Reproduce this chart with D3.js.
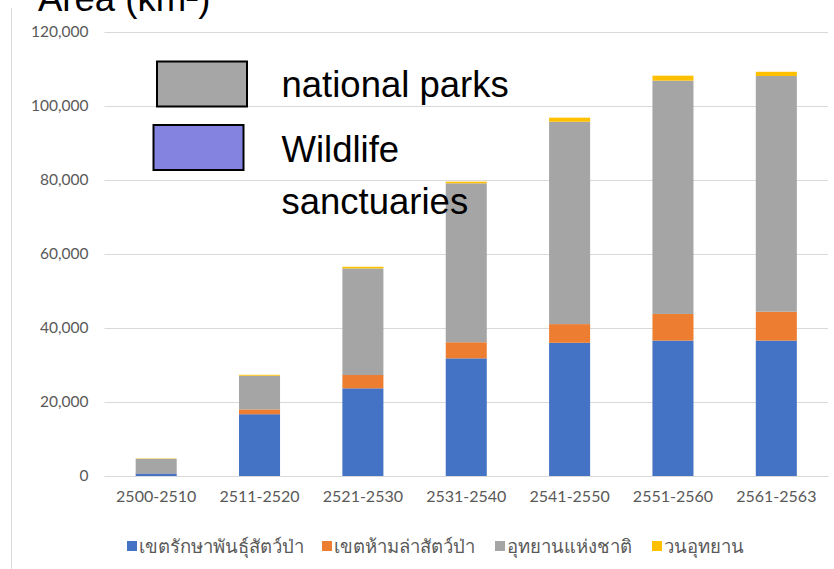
<!DOCTYPE html>
<html>
<head>
<meta charset="utf-8">
<script src="https://cdn.jsdelivr.net/npm/d3@7/dist/d3.min.js"></script>
<style>
  html, body { margin: 0; padding: 0; background: #fff; }
  svg { display: block; }
</style>
</head>
<body>
<svg id="chart" width="834" height="569"></svg>
<script>
// ---- data ----
const categories = ["2500-2510", "2511-2520", "2521-2530", "2531-2540", "2541-2550", "2551-2560", "2561-2563"];
const wildlifeSanctuaries = [700, 16700, 23700, 31800, 36000, 36600, 36600];
const nonHuntingAreas = [50, 1300, 3600, 4350, 5050, 7200, 7800];
const nationalParks = [3900, 9100, 28800, 42950, 54700, 63050, 63700];
const forestParks = [100, 250, 450, 450, 1100, 1350, 1150];
const seriesNames = ["เขตรักษาพันธุ์สัตว์ป่า", "เขตห้ามล่าสัตว์ป่า", "อุทยานแห่งชาติ", "วนอุทยาน"];
const seriesColors = ["#4472c4", "#ed7d31", "#a5a5a5", "#ffc000"];
const yTicks = [0, 20000, 40000, 60000, 80000, 100000, 120000];
const overlayLegend = [
  { lines: ["national parks"], fill: "#a6a6a6" },
  { lines: ["Wildlife", "sanctuaries"], fill: "#8484e0" }
];
const titleText = "Area (km²)";

// ---- build ----
const svg = d3.select("#chart");
const keys = ["ws", "nh", "np", "fp"];
const rows = categories.map((c, i) => ({
  cat: c, ws: wildlifeSanctuaries[i], nh: nonHuntingAreas[i], np: nationalParks[i], fp: forestParks[i]
}));
const stacked = d3.stack().keys(keys)(rows);

const plotLeft = 104.5, plotRight = 828;
const x = d3.scaleBand().domain(categories).range([plotLeft, plotRight]).paddingInner(0.603).paddingOuter(0.3015);
const y = d3.scaleLinear().domain([0, 120000]).range([476, 32]);

const tickFont = "Lato, 'Open Sans', 'Noto Sans', sans-serif";

// chart border (left)
svg.append("line").attr("x1", 11.5).attr("x2", 11.5).attr("y1", 8).attr("y2", 569)
  .attr("stroke", "#d9d9d9").attr("stroke-width", 1);

// partial title at top (cut off in the reference)
svg.append("text").attr("x", 38).attr("y", 11).text(titleText)
  .attr("font-family", "'Liberation Sans', Arial, sans-serif").attr("font-size", 36.5).attr("fill", "#000");

// gridlines + y labels
const yAxis = d3.axisLeft(y).tickValues(yTicks).tickFormat(d3.format(",")).tickSize(-(plotRight - plotLeft)).tickPadding(16);
const gy = svg.append("g").attr("transform", `translate(${plotLeft},0)`).call(yAxis);
gy.select(".domain").remove();
gy.selectAll(".tick line").attr("stroke", "#d9d9d9").attr("stroke-width", 1);
gy.selectAll(".tick text").attr("font-family", tickFont).attr("font-size", 15.5).attr("fill", "#595959");

// bars
svg.append("g").selectAll("g").data(stacked).join("g")
  .attr("fill", (d, i) => seriesColors[i])
  .selectAll("rect").data(d => d).join("rect")
  .attr("x", d => x(d.data.cat))
  .attr("width", x.bandwidth())
  .attr("y", d => y(d[1]))
  .attr("height", d => y(d[0]) - y(d[1]));

// x axis
const xAxis = d3.axisBottom(x).tickSize(0).tickPadding(15);
const gx = svg.append("g").attr("transform", `translate(0,${y(0)})`).call(xAxis);
gx.select(".domain").attr("stroke", "#d9d9d9");
gx.selectAll(".tick text").attr("font-family", tickFont).attr("font-size", 16).attr("fill", "#595959");

// bottom legend
const legendX = [127, 322, 495, 652];
const lg = svg.append("g");
seriesNames.forEach((name, i) => {
  lg.append("rect").attr("x", legendX[i]).attr("y", 541).attr("width", 10).attr("height", 10).attr("fill", seriesColors[i]);
  lg.append("text").attr("x", legendX[i] + 12).attr("y", 553).text(name)
    .attr("font-family", tickFont).attr("font-size", 18.5).attr("fill", "#595959");
});

// overlay legend (drawn on top)
const ol = svg.append("g");
const boxes = [{ x: 157, y: 61.5, w: 90, h: 45 }, { x: 153.5, y: 125, w: 90, h: 45 }];
const textBase = [[96.7], [161.7, 213.5]];
overlayLegend.forEach((item, i) => {
  ol.append("rect").attr("x", boxes[i].x).attr("y", boxes[i].y).attr("width", boxes[i].w).attr("height", boxes[i].h)
    .attr("fill", item.fill).attr("stroke", "#000").attr("stroke-width", 2);
  item.lines.forEach((ln, j) => {
    ol.append("text").attr("x", 281.5).attr("y", textBase[i][j]).text(ln)
      .attr("font-family", "'Liberation Sans', Arial, sans-serif").attr("font-size", 36.5).attr("fill", "#000");
  });
});
</script>
</body>
</html>
